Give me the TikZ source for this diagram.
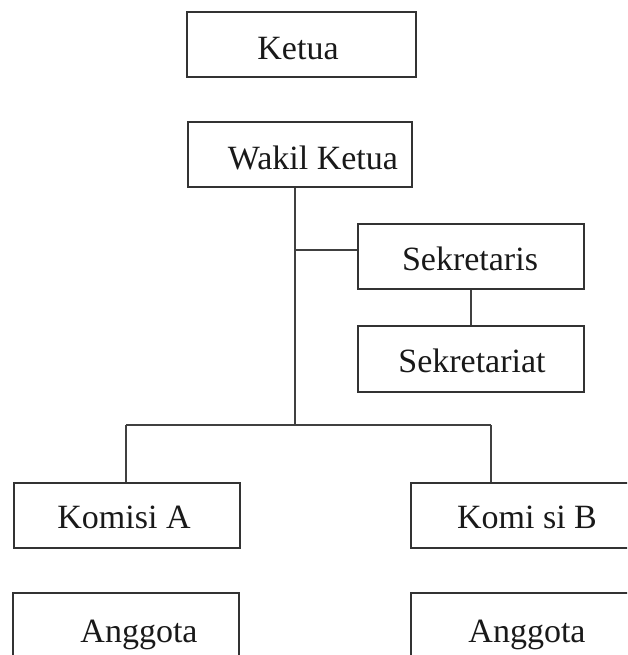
\documentclass[tikz,border=0pt]{standalone}
\usepackage{fontspec}
\setmainfont{Liberation Serif}
\begin{document}
\begin{tikzpicture}[x=1pt,y=-1pt,
  box/.style={draw=black!80,line width=1.4pt,rectangle,minimum width=226pt,minimum height=65pt,inner sep=0pt},
  lbl/.style={anchor=base,inner sep=0pt,text=black!90,font=\fontsize{34}{40}\selectfont},
  conn/.style={draw=black!75,line width=1.5pt}]
\useasboundingbox (0,0) rectangle (627,655);
\clip (0,0) rectangle (627,655);
% boxes
\node[box,minimum width=229pt] (ketua) at (301.5,44.5) {};
\node[box,minimum width=224pt] (wakil) at (300,154.5) {};
\node[box] (sekr) at (471,256.5) {};
\node[box,minimum height=66pt] (sekrt) at (471,359) {};
\node[box] (komA) at (127,515.5) {};
\node[box] (komB) at (524,515.5) {};
\node[box] (angA) at (126,625.5) {};
\node[box] (angB) at (524,625.5) {};
% labels
\node[lbl] (tketua) at (298,60) {Ketua};
\node[lbl] (twakil) at (313,170) {Wakil Ketua};
\node[lbl] (tsekr) at (470,270) {Sekretaris};
\node[lbl] (tsekrt) at (472,372) {Sekretariat};
\node[lbl] (tkomA) at (124,528) {Komisi A};
\node[lbl] (tkomB) at (527,528) {Komi si B};
\node[lbl] (tangA) at (139,642) {Anggota};
\node[lbl] (tangB) at (527,642) {Anggota};
% connectors
\coordinate (j1) at (295,250);
\coordinate (j2) at (295,425);
\coordinate (bl) at (126,425);
\coordinate (br) at (491,425);
\draw[conn] (wakil.south -| j1) -- (j2);
\draw[conn] (j1) -- (j1 -| sekr.west);
\draw[conn] (sekr.south) -- (sekrt.north);
\draw[conn] (bl) -- (br);
\draw[conn] (bl) -- (bl |- komA.north);
\draw[conn] (br) -- (br |- komB.north);
\end{tikzpicture}
\end{document}
